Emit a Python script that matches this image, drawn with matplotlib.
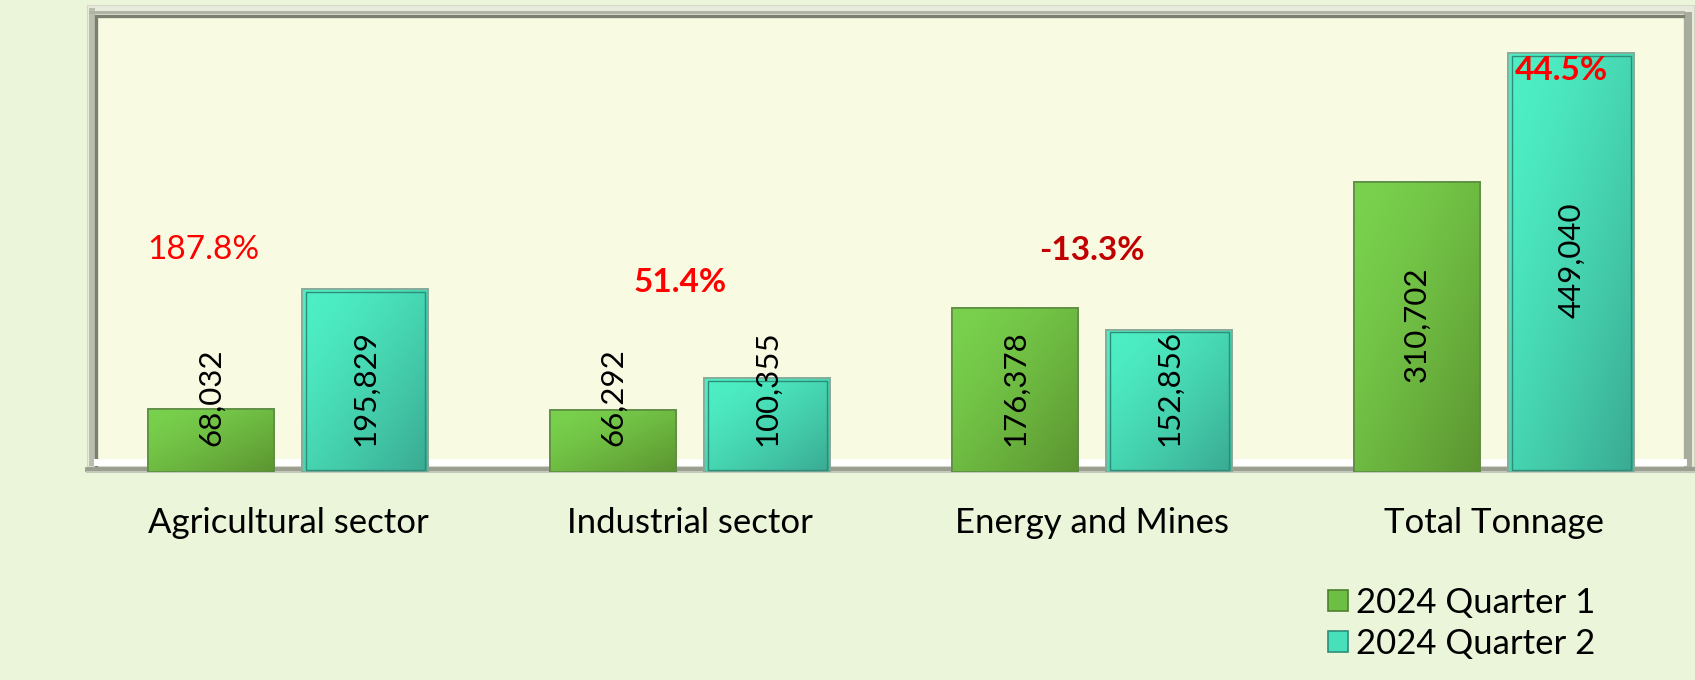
import matplotlib
matplotlib.use("Agg")
import matplotlib.pyplot as plt
import numpy as np
from matplotlib.patches import Rectangle, Patch
from matplotlib.lines import Line2D
from matplotlib.transforms import IdentityTransform

# ---------------- data ----------------
categories = ["Agricultural sector", "Industrial sector", "Energy and Mines", "Total Tonnage"]
series_names = ["2024 Quarter 1", "2024 Quarter 2"]
q1_values = [68032, 66292, 176378, 310702]
q2_values = [195829, 100355, 152856, 449040]
label_inside_base = [True, True, True, False]

# percentage-change annotations (computed from data); placement and style below
pct_pos = [(-0.21, 238000), (0.975, 203000), (2.0, 238000), (3.167, 431000)]
pct_bold = [False, True, True, True]
pct_colors = ["#FF0000", "#FF0000", "#C00000", "#FF0000"]

# ---------------- style ----------------
plt.rcParams['font.family'] = ['Lato', 'DejaVu Sans']
W, H = 1695, 680
fig = plt.figure(figsize=(W / 100, H / 100), dpi=100, facecolor="#EBF5DA")

def fx(px):
    return px / W

def fy(py):
    return 1 - py / H

# plot area (Excel plot area: 87..1695 x 6..472 px)
L, T, R, B = 87, 6, 1695, 472
ax = fig.add_axes([fx(L), fy(B), fx(R - L), (B - T) / H])
ax.set_facecolor("none")
ax.set_zorder(2)

# ---- beveled frame drawn in pixel space ----
def prect(x0, y0, x1, y1, **kw):
    r = Rectangle((x0, H - y1), x1 - x0, y1 - y0, transform=IdentityTransform(), **kw)
    fig.patches.append(r)
    return r

def pline(xs, ys, **kw):
    ln = Line2D(xs, [H - y for y in ys], transform=IdentityTransform(), **kw)
    fig.lines.append(ln)

prect(L, 5, R, 473, facecolor="#D3D7C3", edgecolor="none", zorder=0)
prect(L + 1, 6, R - 1, 466, facecolor="#E8EBDC", edgecolor="none", zorder=0)
prect(L + 2, 8, L + 8, 466, facecolor="#BABEAE", edgecolor="none", zorder=0)
prect(L + 2, 11, R - 10, 14, facecolor="#B0B4A4", edgecolor="none", zorder=0)
prect(1684, 12, 1692, 470, facecolor="#A8AC9C", edgecolor="none", zorder=0)
prect(98, 17, 1683, 465, facecolor="#F8FBE2", edgecolor="none", zorder=0)
pline([96, 96, 1683], [466, 15.5, 15.5], color="#7A8070", lw=2.4, zorder=0.5,
      solid_joinstyle="miter")
pline([97, 1683], [462, 462], color="#FFFFFF", lw=5, zorder=0.5)
pline([L, R], [468.5, 468.5], color="#9A9E90", lw=3.5, zorder=0.5)
pline([L, R], [471.5, 471.5], color="#C4C8B8", lw=1.5, zorder=0.5)

# ---------------- bars ----------------
x = np.arange(len(categories))
width = 0.312
offset = 0.192

ax.set_xlim(-0.5, len(categories) - 0.5)
ax.set_ylim(0, 500000)

bars1 = ax.bar(x - offset, q1_values, width, color="#6CBF42", edgecolor="#5E8C45",
               linewidth=1.2, zorder=3, label=series_names[0])
bars2 = ax.bar(x + offset, q2_values, width, color="#48E0BA", edgecolor="#8AA898",
               linewidth=1.2, zorder=3, label=series_names[1])

def grad_img(c_light, c_dark):
    n = 64
    yy, xx = np.mgrid[0:n, 0:n] / (n - 1)
    t = np.clip(0.55 * xx + 0.55 * yy - 0.1, 0, 1) ** 1.3
    a = np.array(matplotlib.colors.to_rgb(c_light))
    b = np.array(matplotlib.colors.to_rgb(c_dark))
    return a[None, None, :] * (1 - t[..., None]) + b[None, None, :] * t[..., None]

g_img = grad_img("#78D04C", "#5C9430")
t_img = grad_img("#4DEEC3", "#3AAA92")
for bars, img in ((bars1, g_img), (bars2, t_img)):
    for p in bars:
        x0, w, h = p.get_x(), p.get_width(), p.get_height()
        im = ax.imshow(img, extent=[x0, x0 + w, 0, h], origin="upper", aspect="auto",
                       zorder=3.5, interpolation="bilinear")
        im.set_clip_path(p)
        ax.add_patch(Rectangle((x0, 0), w, h, facecolor="none", edgecolor=p.get_edgecolor(),
                               linewidth=1.2, zorder=3.6))
for p in bars2:
    x0, w, h = p.get_x(), p.get_width(), p.get_height()
    ax.add_patch(Rectangle((x0 + 0.008, 2500), w - 0.016, h - 5000, facecolor="none",
                           edgecolor="#2F8C78", linewidth=1.0, zorder=3.7))

ax.set_xlim(-0.5, len(categories) - 0.5)
ax.set_ylim(0, 500000)

# ---------------- value labels ----------------
for bars, vals in ((bars1, q1_values), (bars2, q2_values)):
    for i, (p, v) in enumerate(zip(bars, vals)):
        cx = p.get_x() + p.get_width() / 2
        if label_inside_base[i]:
            ax.annotate(f"{v:,}", xy=(cx, 0), xytext=(0, 19), textcoords="offset points",
                        rotation=90, ha="center", va="bottom", fontsize=22.5, color="black",
                        zorder=5)
        else:
            ax.annotate(f"{v:,}", xy=(cx, v / 2), xytext=(0, 2), textcoords="offset points",
                        rotation=90, ha="center", va="center", fontsize=22.5, color="black",
                        zorder=5)

# ---------------- percentage change labels ----------------
for i in range(len(categories)):
    pct = (q2_values[i] - q1_values[i]) / q1_values[i] * 100
    px_, py_ = pct_pos[i]
    ax.text(px_, py_, f"{pct:.1f}%", ha="center", va="center", fontsize=24,
            fontweight="bold" if pct_bold[i] else "normal", color=pct_colors[i], zorder=6)

# ---------------- axes cosmetics ----------------
for s in ax.spines.values():
    s.set_visible(False)
ax.set_yticks([])
ax.set_xticks(x)
ax.set_xticklabels(categories, fontsize=25)
ax.tick_params(axis="x", length=0, pad=25)

# ---------------- legend ----------------
handles = [Patch(facecolor="#6CBF42", edgecolor="#4F7F30", linewidth=1.2),
           Patch(facecolor="#48E0BA", edgecolor="#2F8C78", linewidth=1.2)]
fig.legend(handles, series_names, loc="upper left",
           bbox_to_anchor=(fx(1328), fy(587)), frameon=False, fontsize=25,
           handlelength=0.57, handleheight=0.57, handletextpad=0.25,
           labelspacing=0.26, borderpad=0, borderaxespad=0)

fig.savefig("out.png", dpi=100, facecolor=fig.get_facecolor())
